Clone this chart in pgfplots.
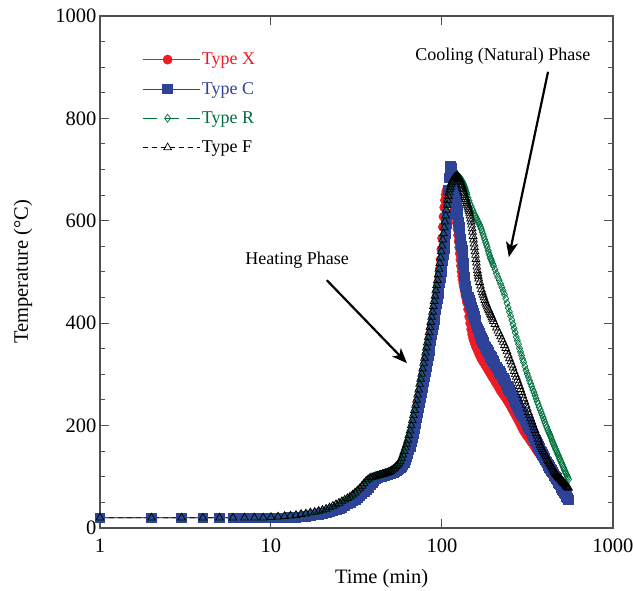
\documentclass[border=0pt]{standalone}
\usepackage{pgfplots}
\pgfplotsset{compat=1.18}
\usepackage{pgfplotstable}
\usepackage{fontspec}
\setmainfont{Liberation Serif}
\usetikzlibrary{arrows.meta}
\definecolor{cX}{RGB}{237,28,36}
\definecolor{cC}{RGB}{46,66,152}
\definecolor{cR}{RGB}{0,112,60}
\definecolor{axgray}{RGB}{80,80,80}

\pgfplotstableread{
t T
1 20
2 20
3 20
4 20
5 20
6 20
7 20
8 20
9 20
10 20
11 20
12 21
13 22
14 23
15 24
16 25
17 27
18 28
19 30
20 31
21 33
22 35
23 37
24 40
25 43
26 46
27 49
28 52
29 55
30 58
31 61
32 65
33 69
34 73
35 77
36 82
37 87
38 92
39 95
40 98
41 99
42 100
43 101
44 102
45 103
46 104
47 105
48 106
49 107
50 108
51 109
52 111
53 113
54 115
55 117
56 120
57 123
58 126
59 130
60 136
61 143
62 150
63 157
64 164
65 172
66 181
67 190
68 200
69 210
70 220
71 230
72 240
73 250
74 260
75 270
76 281
77 291
78 301
79 311
80 322
81 332
82 342
83 352
84 362
85 372
86 382
87 392
88 402
89 412
90 422
91 433
92 443
93 453
94 464
95 476
96 490
97 506
98 524
99 544
100 566
101 588
102 608
103 626
104 640
105 651
106 658
107 661
108 661
109 659
110 656
111 653
112 650
113 646
114 642
115 638
116 634
117 630
118 626
119 621
120 615
121 606
122 596
123 584
124 572
125 560
126 548
127 536
128 524
129 512
130 501
131 492
132 485
133 478
134 472
135 467
136 462
137 456
138 451
139 446
140 440
142 427
144 413
146 400
148 388
150 378
152 370
154 365
156 359
158 354
160 350
162 346
164 342
166 338
168 334
170 331
172 328
174 325
176 323
178 320
180 317
182 315
184 312
186 310
188 307
190 304
192 302
194 299
196 297
198 294
200 292
204 287
208 282
212 278
216 273
220 268
224 265
228 261
232 257
236 254
240 250
244 246
248 242
252 238
256 234
260 230
264 226
268 222
272 218
276 214
280 210
284 206
288 202
292 198
296 194
300 190
305 187
310 183
315 180
320 177
325 173
330 170
335 167
340 164
345 161
350 158
355 154
360 151
365 148
370 146
375 143
380 140
385 137
390 133
395 130
400 127
405 124
410 122
415 119
420 117
425 114
430 112
435 109
440 106
445 104
450 101
455 99
460 96
465 94
470 91
475 89
480 87
485 85
490 82
495 80
500 78
505 76
510 74
515 72
520 70
525 68
530 66
535 64
540 62
545 60
550 58
}\dataX

\pgfplotstableread{
t T
1 20
2 20
3 20
4 20
5 20
6 20
7 20
8 20
9 20
10 20
11 20
12 20
13 21
14 21
15 22
16 23
17 24
18 26
19 27
20 29
21 30
22 32
23 34
24 36
25 38
26 41
27 44
28 47
29 50
30 53
31 56
32 60
33 63
34 67
35 71
36 75
37 80
38 84
39 89
40 93
41 96
42 98
43 100
44 101
45 102
46 103
47 104
48 105
49 106
50 107
51 108
52 109
53 110
54 112
55 114
56 116
57 118
58 121
59 124
60 128
61 133
62 139
63 146
64 153
65 160
66 168
67 176
68 185
69 195
70 205
71 215
72 225
73 235
74 245
75 255
76 265
77 275
78 286
79 296
80 306
81 316
82 327
83 337
84 347
85 357
86 367
87 377
88 387
89 397
90 407
91 417
92 427
93 438
94 448
95 458
96 469
97 479
98 490
99 500
100 511
101 522
102 534
103 546
104 560
105 576
106 594
107 614
108 636
109 660
110 684
111 705
112 706
113 702
114 696
115 690
116 683
117 676
118 669
119 661
120 652
121 642
122 631
123 620
124 609
125 598
126 587
127 576
128 565
129 556
130 550
131 543
132 530
133 517
134 504
135 491
136 478
137 472
138 466
139 462
140 458
142 451
144 445
146 439
148 432
150 425
152 419
154 413
156 407
158 400
160 393
162 389
164 384
166 380
168 375
170 371
172 367
174 363
176 360
178 356
180 353
182 350
184 347
186 344
188 341
190 338
192 335
194 333
196 330
198 328
200 325
204 320
208 315
212 311
216 306
220 302
224 297
228 292
232 288
236 283
240 278
244 273
248 269
252 265
256 260
260 256
264 252
268 247
272 243
276 239
280 235
284 231
288 228
292 224
296 221
300 217
305 212
310 208
315 203
320 199
325 194
330 190
335 185
340 181
345 177
350 172
355 168
360 164
365 160
370 156
375 151
380 148
385 144
390 141
395 137
400 134
405 131
410 128
415 125
420 122
425 119
430 116
435 113
440 110
445 108
450 105
455 102
460 100
465 97
470 94
475 91
480 89
485 86
490 84
495 81
500 79
505 76
510 74
515 71
520 69
525 67
530 64
535 62
540 59
545 57
550 55
}\dataC

\pgfplotstableread{
t T
1 20
2 20
3 20
4 20
5 20
6 20
7 20
8 20
9 20
10 21
11 22
12 23
13 24
14 25
15 27
16 28
17 30
18 31
19 33
20 35
21 37
22 40
23 43
24 46
25 49
26 52
27 55
28 58
29 61
30 65
31 69
32 73
33 77
34 82
35 87
36 92
37 95
38 98
39 99
40 100
41 101
42 102
43 103
44 104
45 105
46 106
47 107
48 108
49 109
50 111
51 113
52 115
53 117
54 120
55 123
56 126
57 130
58 136
59 143
60 150
61 157
62 164
63 172
64 181
65 190
66 200
67 210
68 220
69 230
70 240
71 250
72 260
73 270
74 281
75 291
76 301
77 311
78 322
79 332
80 342
81 352
82 362
83 372
84 382
85 392
86 402
87 412
88 422
89 433
90 443
91 453
92 464
93 474
94 484
95 495
96 506
97 517
98 528
99 540
100 551
101 563
102 575
103 587
104 598
105 610
106 621
107 631
108 640
109 648
110 655
111 661
112 666
113 671
114 675
115 678
116 680
117 682
118 684
119 685
120 686
121 687
122 687
123 687
124 687
125 686
126 685
127 684
128 683
129 681
130 679
131 677
132 675
133 673
134 670
135 668
136 665
137 662
138 658
139 655
140 651
142 645
144 639
146 633
148 628
150 623
152 619
154 614
156 610
158 607
160 603
162 599
164 596
166 592
168 588
170 583
172 578
174 573
176 568
178 563
180 558
182 553
184 548
186 542
188 537
190 532
192 527
194 524
196 520
198 516
200 512
204 505
208 497
212 490
216 484
220 477
224 470
228 463
232 456
236 448
240 439
244 430
248 422
252 414
256 406
260 398
264 390
268 382
272 373
276 366
280 359
284 351
288 344
292 337
296 330
300 324
305 316
310 308
315 301
320 295
325 288
330 282
335 276
340 270
345 265
350 259
355 253
360 247
365 242
370 236
375 231
380 226
385 221
390 216
395 211
400 206
405 201
410 197
415 192
420 188
425 184
430 180
435 176
440 171
445 167
450 163
455 159
460 155
465 152
470 148
475 144
480 141
485 137
490 134
495 130
500 127
505 124
510 120
515 117
520 113
525 110
530 107
535 104
540 101
545 98
550 95
}\dataR

\pgfplotstableread{
t T
1 20
2 20
3 20
4 20
5 20
6 20
7 20
8 20
9 20
10 21
11 22
12 23
13 24
14 25
15 27
16 28
17 30
18 31
19 33
20 35
21 37
22 40
23 43
24 46
25 49
26 52
27 55
28 58
29 61
30 65
31 69
32 73
33 77
34 82
35 87
36 92
37 95
38 98
39 99
40 100
41 101
42 102
43 103
44 104
45 105
46 106
47 107
48 108
49 109
50 111
51 113
52 115
53 117
54 120
55 123
56 126
57 130
58 136
59 143
60 150
61 157
62 164
63 172
64 181
65 190
66 200
67 210
68 220
69 230
70 240
71 250
72 260
73 270
74 281
75 291
76 301
77 311
78 322
79 332
80 342
81 352
82 362
83 372
84 382
85 392
86 402
87 412
88 422
89 433
90 443
91 453
92 464
93 474
94 484
95 495
96 506
97 517
98 528
99 540
100 551
101 563
102 575
103 587
104 598
105 610
106 621
107 631
108 640
109 648
110 655
111 661
112 666
113 671
114 675
115 678
116 680
117 682
118 684
119 685
120 686
121 687
122 687
123 687
124 686
125 685
126 683
127 681
128 678
129 675
130 671
131 668
132 664
133 661
134 657
135 654
136 650
137 646
138 642
139 638
140 634
141 631
142 627
143 623
144 619
145 615
146 610
147 604
148 598
149 592
150 585
151 578
152 570
153 563
154 555
155 548
156 540
157 533
158 525
159 518
160 510
161 503
162 497
163 492
164 487
166 480
168 473
170 466
172 460
174 455
176 450
178 445
180 440
182 436
184 432
186 428
188 425
190 422
192 418
194 415
196 411
198 408
200 404
204 398
208 391
212 385
216 380
220 374
224 368
228 363
232 357
236 351
240 345
244 338
248 331
252 325
256 319
260 313
264 306
268 300
272 295
276 289
280 283
284 277
288 271
292 265
296 259
300 253
305 247
310 240
315 233
320 226
325 220
330 214
335 208
340 202
345 196
350 191
355 185
360 180
365 174
370 168
375 162
380 158
385 154
390 150
395 147
400 143
405 140
410 137
415 133
420 130
425 127
430 124
435 121
440 118
445 115
450 112
455 109
460 107
465 105
470 103
475 101
480 99
485 97
490 96
495 94
500 93
505 91
510 90
515 88
520 87
525 85
530 83
535 81
540 80
545 79
550 78
}\dataF

\begin{document}
\begin{tikzpicture}
\useasboundingbox (-100bp,-63bp) rectangle (533bp,528bp);
\begin{axis}[
  at={(0,0)}, anchor=south west,
  scale only axis, width=513bp, height=512bp,
  xmode=log, xmin=1, xmax=1000,
  xtick={1,10,100,1000}, xticklabels={1,10,100,1000},
  xminorticks=false,
  ymin=0, ymax=1000, ytick={0,200,400,600,800,1000},
  minor y tick num=3,
  /pgf/number format/1000 sep={},
  tick align=inside,
  major tick length=9bp, minor tick length=5bp,
  axis line style={axgray, line width=1.3bp},
  every tick/.style={axgray, line width=1bp},
  tick label style={font=\fontsize{20.5bp}{24bp}\selectfont},
  xticklabel style={yshift=-7bp},
  /pgf/number format/assume math mode=true,
  xlabel={Time (min)},
  ylabel={Temperature (°C)},
  label style={font=\fontsize{20.5bp}{24bp}\selectfont},
  xlabel style={at={(axis description cs:0.549,-0.098)}, anchor=center},
  ylabel style={at={(axis description cs:-0.150,0.5)}, anchor=center, rotate=0},
  clip=false,
  legend style={at={(axis description cs:0.078,0.936)}, anchor=north west,
    draw=none, fill=none, font=\fontsize{18bp}{21bp}\selectfont,
    row sep=12bp, inner sep=2bp},
  legend cell align=left,
  legend image code/.code={\draw[line width=0.8bp, mark repeat=2,mark phase=2] plot coordinates {(0bp,0bp) (25bp,0bp) (50bp,0bp)};
    \path (0bp,0bp) -- (57bp,0bp);},
]
\addplot[color=cX, line width=0.6bp, mark=*, mark size=4.5bp, mark options={solid, fill=cX, draw=cX}] table {\dataX};
\addlegendentry{\textcolor{cX}{Type X}}
\addplot[color=cC, line width=0.6bp, mark=square*, mark size=4.8bp, mark options={solid, fill=cC, draw=cC}] table {\dataC};
\addlegendentry{\textcolor{cC}{Type C}}
\addplot[color=cR, line width=0.6bp, dash pattern=on 14bp off 8bp, mark=diamond, mark size=4bp, mark options={solid, fill=white, draw=cR, line width=0.7bp}] table {\dataR};
\addlegendentry{\textcolor{cR}{Type R}}
\addplot[color=black, line width=0.6bp, dash pattern=on 5bp off 4bp, mark=triangle, mark size=4.5bp, mark options={solid, fill=white, draw=black, line width=0.7bp}] table {\dataF};
\addlegendentry{\textcolor{black}{Type F}}

\node[font=\fontsize{18bp}{21bp}\selectfont] at (axis cs:14.2,523) {Heating Phase};
\draw[line width=2.2bp, -{Stealth[length=15bp,width=12bp,inset=4bp]}] (axis cs:21.2,484) -- (axis cs:62.4,322);
\node[font=\fontsize{18bp}{21bp}\selectfont] at (axis cs:227,922) {Cooling (Natural) Phase};
\draw[line width=2.2bp, -{Stealth[length=15bp,width=12bp,inset=4bp]}] (axis cs:417,891) -- (axis cs:246,529);
\end{axis}
\end{tikzpicture}
\end{document}
